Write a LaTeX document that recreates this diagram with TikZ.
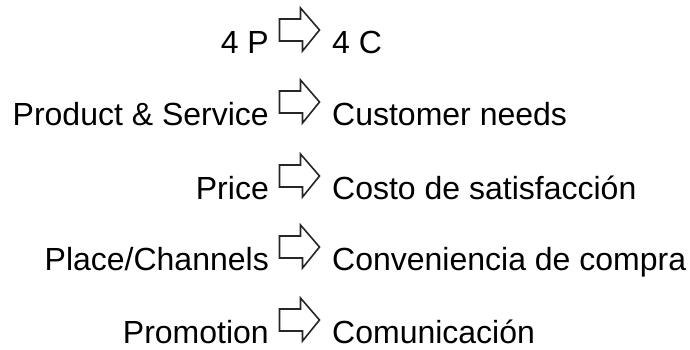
\documentclass[tikz,border=0pt]{standalone}
\usepackage{fontspec}
\setmainfont{Liberation Sans}
\usetikzlibrary{positioning,calc}

\begin{document}
\begin{tikzpicture}[x=1pt, y=1pt,
    lbl/.style={inner sep=0pt, font=\fontsize{32}{38}\selectfont},
    lhs/.style={lbl, anchor=base east},
    rhs/.style={lbl, anchor=base west},
    hollow/.pic={\draw[line width=1.6pt, black!85, line join=miter]
        (0,11) -- (21,11) -- (21,22) -- (40,0) -- (23,-21) -- (23,-11) -- (0,-11) -- cycle;}]
    \useasboundingbox (0,0) rectangle (690,-349);

    % Header
    \node[lhs] (pfour) at (269,-53) {4 P};
    \node[rhs] (cfour) at (332,-53) {4 C};
    \pic at ($(pfour.base east)!.5!(cfour.base west)+(-21,23)$) {hollow};

    % Product
    \node[lhs] (product) at (269,-125) {Product \& Service};
    \node[rhs] (needs) at (332,-125) {Customer needs};
    \pic at ($(product.base east)!.5!(needs.base west)+(-21,23)$) {hollow};

    % Price
    \node[lhs] (price) at (269,-199) {Price};
    \node[rhs] (costo) at (332,-199) {Costo de satisfacción};
    \pic at ($(price.base east)!.5!(costo.base west)+(-21,23)$) {hollow};

    % Place
    \node[lhs] (place) at (269,-270) {Place/Channels};
    \node[rhs] (compra) at (332,-270) {Conveniencia de compra};
    \pic at ($(place.base east)!.5!(compra.base west)+(-21,23)$) {hollow};

    % Promotion
    \node[lhs] (promo) at (269,-343) {Promotion};
    \node[rhs] (comun) at (332,-343) {Comunicación};
    \pic at ($(promo.base east)!.5!(comun.base west)+(-21,23)$) {hollow};
\end{tikzpicture}
\end{document}
